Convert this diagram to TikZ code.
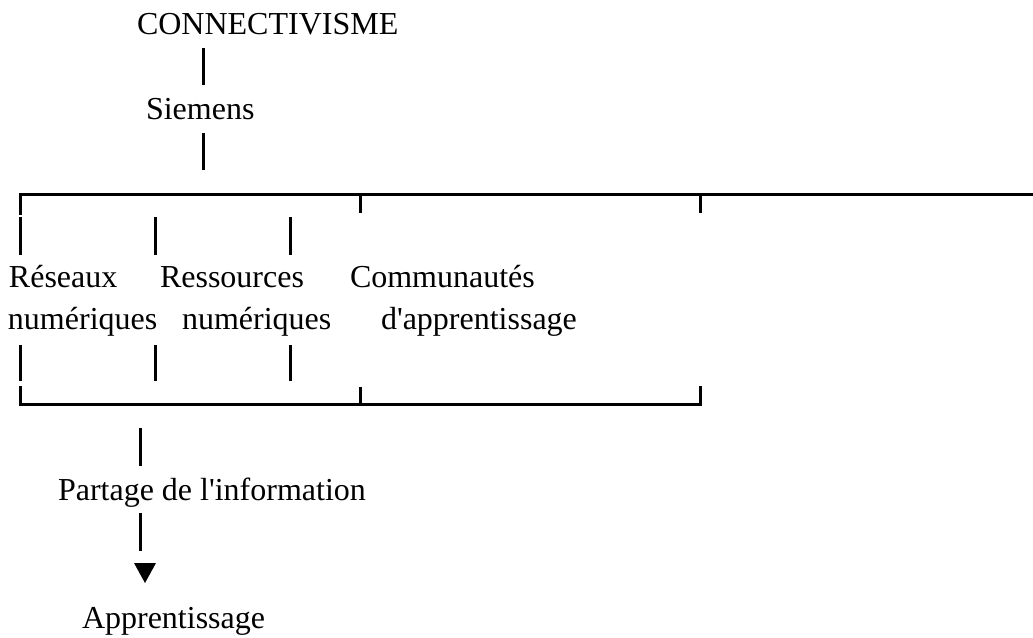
\documentclass[tikz,border=0pt]{standalone}
\usepackage{fontspec}
\setmainfont{Liberation Serif}[Ligatures=TeXOff]
\begin{document}
\begin{tikzpicture}[x=1pt,y=-1pt,
  lbl/.style={anchor=base west,inner sep=0pt,outer sep=0pt,font=\fontsize{32}{38}\selectfont},
  bar/.style={line width=3pt},
  rule/.style={line width=3pt,line cap=rect}]
\useasboundingbox[fill=white] (0,0) rectangle (1033,637);
% texts
\node[lbl] (conn) at (137,34) {CONNECTIVISME};
\node[lbl] (siem) at (146,119) {Siemens};
\node[lbl] (res1) at (9,287) {Réseaux};
\node[lbl] (res2) at (8,329) {numériques};
\node[lbl] (ress1) at (160,287) {Ressources};
\node[lbl] (ress2) at (182,329) {numériques};
\node[lbl] (com1) at (350,287) {Communautés};
\node[lbl] (com2) at (381,329) {d'apprentissage};
\node[lbl] (part) at (58,500) {Partage de l'information};
\node[lbl] (appr) at (82,628) {Apprentissage};
% vertical bars top
\coordinate (c1) at (203,48);  \coordinate (c2) at (203,85);
\coordinate (c3) at (203,133); \coordinate (c4) at (203,170);
\draw[bar] (c1) -- (c2);
\draw[bar] (c3) -- (c4);
% top bracket
\coordinate (tl) at (20,213);
\coordinate (tc) at (20,194);
\coordinate (tr) at (1034,194);
\draw[rule] (tl) -- (tc) -- (tr);
\coordinate (t1a) at (360,194); \coordinate (t1b) at (360,213);
\coordinate (t2a) at (700,194); \coordinate (t2b) at (700,213);
\draw[bar] (t1a) -- (t1b);
\draw[bar] (t2a) -- (t2b);
% upper and lower row bars
\foreach \x/\n in {20/a,155/b,290/c}{
  \coordinate (u\n1) at (\x,217); \coordinate (u\n2) at (\x,255);
  \draw[bar] (u\n1) -- (u\n2);
  \coordinate (l\n1) at (\x,345); \coordinate (l\n2) at (\x,381);
  \draw[bar] (l\n1) -- (l\n2);
}
% bottom bracket
\coordinate (bl) at (20,387);
\coordinate (bc) at (20,404);
\coordinate (br) at (700,404);
\coordinate (brt) at (700,387);
\draw[rule] (bl) -- (bc) -- (br) -- (brt);
\coordinate (bm1) at (360,387); \coordinate (bm2) at (360,404);
\draw[bar] (bm1) -- (bm2);
% lower bars
\coordinate (d1) at (140,428); \coordinate (d2) at (140,466);
\coordinate (d3) at (140,513); \coordinate (d4) at (140,551);
\draw[bar] (d1) -- (d2);
\draw[bar] (d3) -- (d4);
% arrowhead
\fill (134,563) -- (156,563) -- (145,583) -- cycle;
\end{tikzpicture}
\end{document}
